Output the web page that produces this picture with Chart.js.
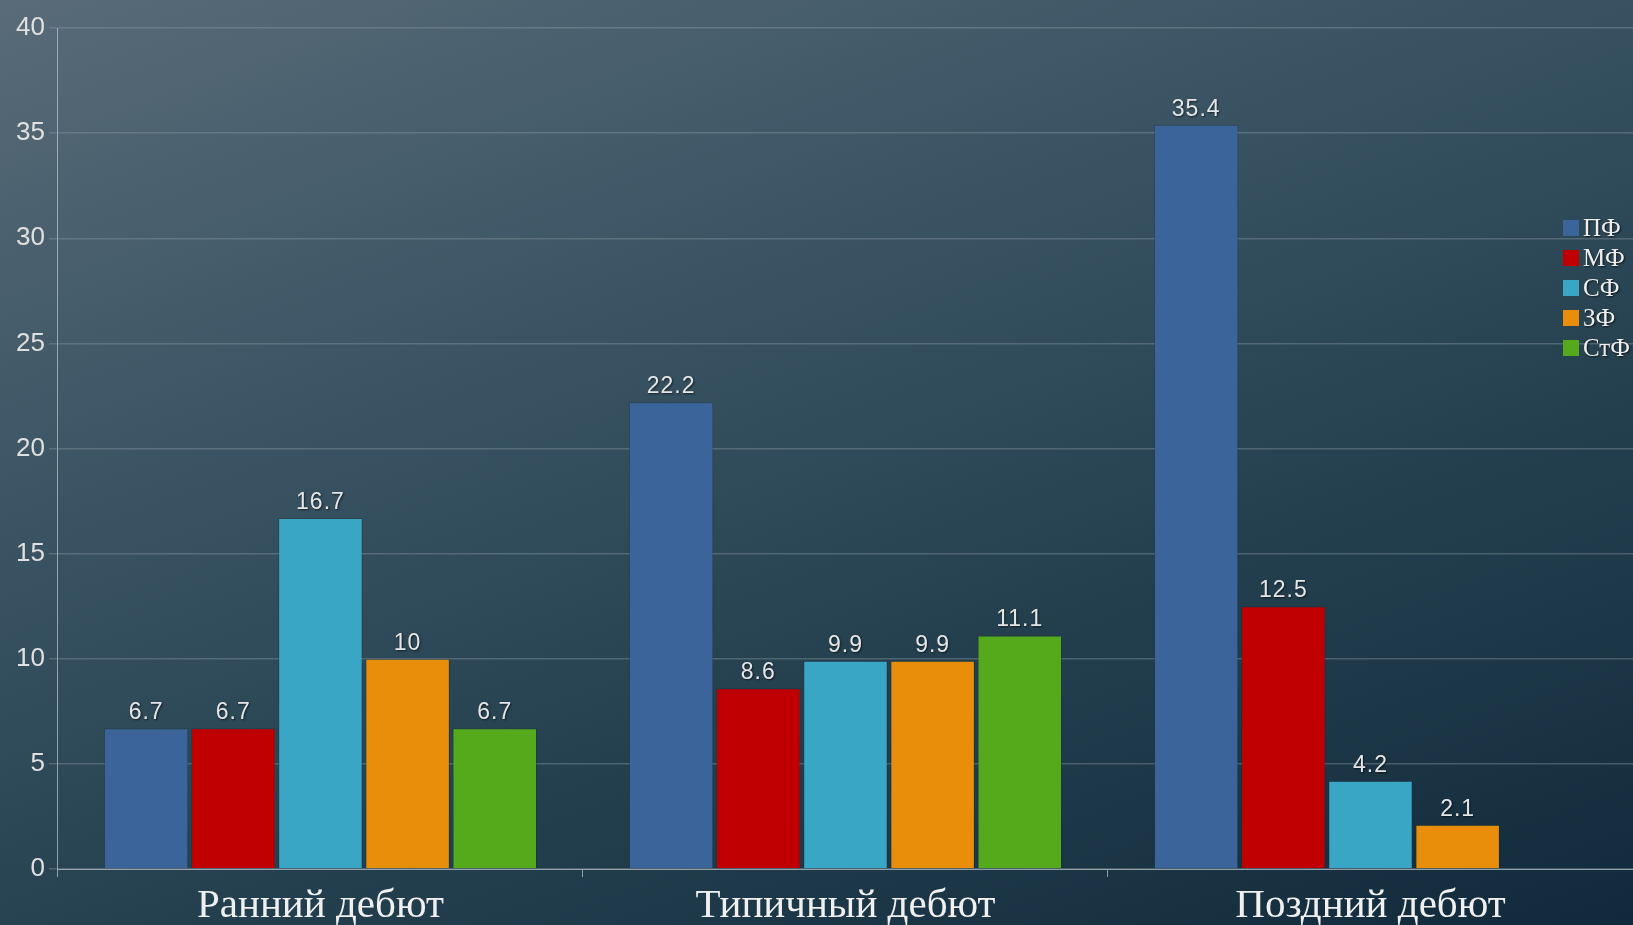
<!DOCTYPE html>
<html>
<head>
<meta charset="utf-8">
<script src="https://cdn.jsdelivr.net/npm/chart.js@4/dist/chart.umd.min.js"></script>
<style>
  html, body { margin: 0; padding: 0; }
  body {
    width: 1633px; height: 925px; overflow: hidden;
    background: linear-gradient(160deg, #596b78 0%, #3a5463 35%, #24404f 65%, #112a3b 100%);
  }
  #wrap { position: relative; width: 1633px; height: 925px; }
  canvas { display: block; }
</style>
</head>
<body>
<div id="wrap"><canvas id="chart" width="1633" height="925"></canvas></div>
<script>
const categories = ['Ранний дебют', 'Типичный дебют', 'Поздний дебют'];
const seriesNames = ['ПФ', 'МФ', 'СФ', 'ЗФ', 'СтФ'];
const pfValues = [6.7, 22.2, 35.4];
const mfValues = [6.7, 8.6, 12.5];
const sfValues = [16.7, 9.9, 4.2];
const zfValues = [10, 9.9, 2.1];
const stfValues = [6.7, 11.1, null];
const yTicks = [0, 5, 10, 15, 20, 25, 30, 35, 40];

const colors = ['#3b649b', '#c00000', '#3aa6c6', '#e88e0a', '#55aa1c'];
const allValues = [pfValues, mfValues, sfValues, zfValues, stfValues];

// value labels over each bar
const valueLabels = {
  id: 'valueLabels',
  afterDatasetsDraw(chart) {
    const ctx = chart.ctx;
    ctx.save();
    ctx.font = '23px "Liberation Sans", Arial, sans-serif';
    ctx.letterSpacing = '1px';
    ctx.textAlign = 'center';
    ctx.textBaseline = 'bottom';
    ctx.fillStyle = '#e6e6e6';
    ctx.shadowColor = 'rgba(0,0,0,0.6)';
    ctx.shadowBlur = 2;
    ctx.shadowOffsetX = 1;
    ctx.shadowOffsetY = 1;
    chart.data.datasets.forEach((ds, i) => {
      chart.getDatasetMeta(i).data.forEach((bar, j) => {
        const v = ds.data[j];
        if (v === null || v === undefined) return;
        ctx.fillText(String(v), bar.x, bar.y - 4);
      });
    });
    ctx.restore();
  }
};

// legend drawn on top of the plot, right side
const sideLegend = {
  id: 'sideLegend',
  afterDraw(chart) {
    const ctx = chart.ctx;
    ctx.save();
    ctx.font = '25px "Liberation Serif", "Times New Roman", serif';
    ctx.textBaseline = 'middle';
    chart.data.datasets.forEach((ds, i) => {
      const y = 228 + i * 30;
      ctx.shadowColor = 'transparent';
      ctx.fillStyle = ds.backgroundColor;
      ctx.fillRect(1563, y - 8, 16, 16);
      ctx.fillStyle = '#eeeeee';
      ctx.shadowColor = 'rgba(0,0,0,0.7)';
      ctx.shadowBlur = 2;
      ctx.shadowOffsetX = 1;
      ctx.shadowOffsetY = 1;
      ctx.fillText(ds.label, 1583, y + 1);
    });
    ctx.restore();
  }
};

new Chart(document.getElementById('chart'), {
  type: 'bar',
  data: {
    labels: categories,
    datasets: seriesNames.map((name, i) => ({
      label: name,
      data: allValues[i],
      backgroundColor: colors[i],
      borderColor: 'rgba(20,30,40,0.25)',
      borderWidth: 1,
      categoryPercentage: 0.83,
      barPercentage: 0.97
    }))
  },
  options: {
    responsive: false,
    animation: false,
    devicePixelRatio: 1,
    layout: { padding: { top: 28, left: 12, right: 0, bottom: 0 } },
    plugins: {
      legend: { display: false },
      tooltip: { enabled: false }
    },
    scales: {
      x: {
        afterFit(scale) {
          // labels sit low, partly cut by the bottom edge like the original
          scale.height = 56;
        },
        grid: {
          drawOnChartArea: false,
          drawTicks: true,
          tickLength: 8,
          color: 'rgba(190,200,205,0.7)'
        },
        border: { color: 'rgba(190,200,205,0.7)' },
        ticks: {
          padding: 8,
          maxRotation: 0,
          color: '#f0f0f0',
          font: { family: '"Liberation Serif", "Times New Roman", serif', size: 41, lineHeight: 1.02 }
        }
      },
      y: {
        min: 0,
        max: 40,
        afterBuildTicks(axis) {
          axis.ticks = yTicks.map(v => ({ value: v }));
        },
        grid: {
          color: 'rgba(140,155,165,0.4)',
          lineWidth: 1.5,
          tickLength: 9
        },
        border: { color: 'rgba(190,200,205,0.7)' },
        ticks: {
          padding: 4,
          color: '#e0e0e0',
          font: { family: '"Liberation Sans", Arial, sans-serif', size: 26 }
        }
      }
    }
  },
  plugins: [valueLabels, sideLegend]
});
</script>
</body>
</html>
